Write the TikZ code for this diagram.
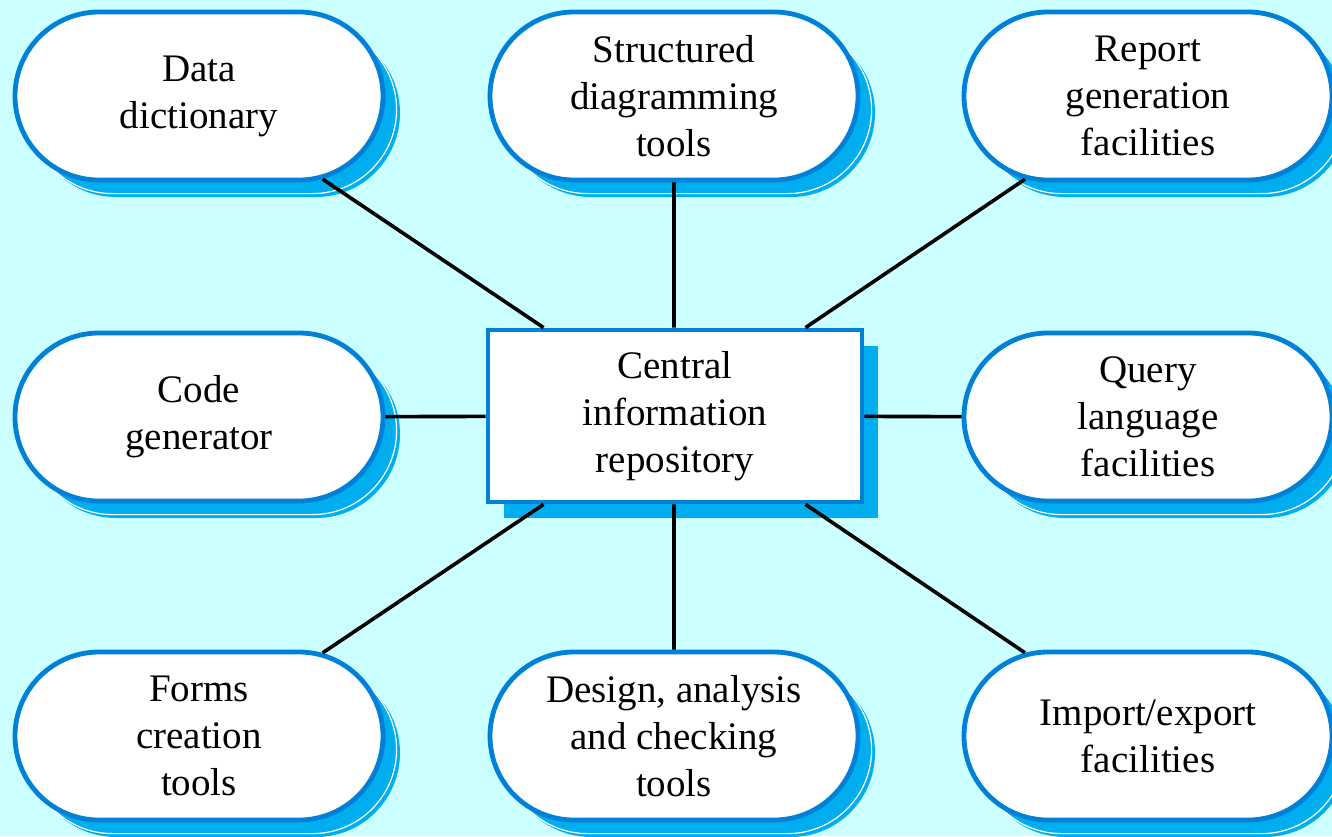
\documentclass[tikz,border=0pt]{standalone}
\usepackage{fontspec}
\setmainfont{Liberation Serif}
\usetikzlibrary{shapes.misc,shadows}
\definecolor{bgcyan}{RGB}{204,255,255}
\definecolor{edgeblue}{RGB}{0,128,214}
\definecolor{shadeblue}{RGB}{0,174,239}
\begin{document}
\begin{tikzpicture}[x=0.5pt, y=-0.5pt,
    tool/.style={rounded rectangle, draw=edgeblue, line width=2.4pt, fill=white,
        minimum width=184pt, minimum height=84pt, inner sep=0pt, align=center,
        font=\fontsize{19.5}{23.5}\selectfont,
        general shadow={shadow xshift=8.5pt, shadow yshift=-8.5pt, fill=shadeblue},
        general shadow={shadow xshift=6.8pt, shadow yshift=-6.8pt, fill=shadeblue, draw=white, line width=0.6pt}},
    hub/.style={rectangle, draw=edgeblue, line width=2.4pt, fill=white,
        minimum width=187pt, minimum height=86pt, inner sep=0pt, align=center,
        font=\fontsize{19.5}{23.5}\selectfont,
        general shadow={shadow xshift=8pt, shadow yshift=-8pt, fill=shadeblue}},
    link/.style={line width=1.8pt}]
    \fill[bgcyan] (0,0) rectangle (1332,836);
    \useasboundingbox (0,0) rectangle (1332,836);
    \clip (0,0) rectangle (1332,836);
    \node[hub] (central) at (675,416) {Central\\information\\repository};
    \node[tool] (dict) at (199,96) {Data\\dictionary};
    \node[tool] (struct) at (674,96) {Structured\\diagramming\\tools};
    \node[tool] (report) at (1148,96) {Report\\generation\\facilities};
    \node[tool] (codegen) at (199,417) {Code\\generator};
    \node[tool] (query) at (1148,417) {Query\\language\\facilities};
    \node[tool] (forms) at (199,736) {Forms\\creation\\tools};
    \node[tool] (design) at (674,736) {Design, analysis\\and checking\\tools};
    \node[tool] (export) at (1148,736) {Import/export\\facilities};
    \draw[link] (central) -- (dict);
    \draw[link] (central.north -| struct) -- (struct);
    \draw[link] (central) -- (report);
    \draw[link] (central) -- (codegen);
    \draw[link] (central) -- (query);
    \draw[link] (central) -- (forms);
    \draw[link] (central.south -| design) -- (design);
    \draw[link] (central) -- (export);
\end{tikzpicture}
\end{document}
